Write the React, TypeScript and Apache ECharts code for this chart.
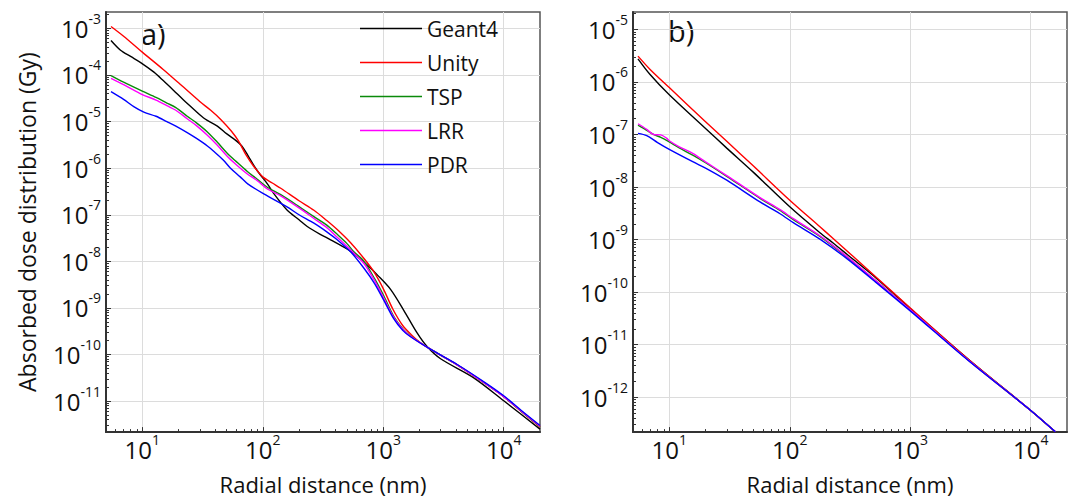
import React, { useEffect, useRef } from "react";
import * as echarts from "echarts";

// ---------- data (x: radial distance in nm, y: absorbed dose in Gy) ----------
const seriesNames = ["Geant4", "Unity", "TSP", "LRR", "PDR"];
const seriesColors = ["#000000", "#ff0000", "#0a8a0a", "#ff00ff", "#0000ff"];

// panel a)
const geant4A = [[5.5, 5.5e-4], [6.6, 3.4e-4], [8, 2.5e-4], [9.7, 1.85e-4], [12.5, 1.15e-4], [15, 7.5e-5], [18.3, 4.6e-5], [22, 2.9e-5], [27, 1.8e-5], [33, 1.15e-5], [42, 8.0e-6], [50, 5.5e-6], [60, 3.9e-6], [67, 3.0e-6], [75, 1.9e-6], [85, 1.1e-6], [95, 7.3e-7], [110, 4.5e-7], [124, 2.8e-7], [159, 1.26e-7], [200, 7.8e-8], [234, 5.6e-8], [300, 3.8e-8], [366, 2.9e-8], [500, 1.85e-8], [600, 1.3e-8], [736, 8.3e-9], [900, 5.0e-9], [1150, 2.5e-9], [1480, 8.9e-10], [1910, 2.9e-10], [2300, 1.5e-10], [2990, 8.1e-11], [5600, 3.2e-11], [10000, 1.02e-11], [20000, 2.5e-12]];
const unityA = [[5.5, 1.1e-3], [7, 6.8e-4], [10, 3.1e-4], [15, 1.3e-4], [20, 6.8e-5], [30, 2.7e-5], [37, 1.75e-5], [45, 1.1e-5], [55, 6.2e-6], [63, 3.8e-6], [72, 2.0e-6], [84, 1.1e-6], [100, 6.5e-7], [120, 4.8e-7], [141, 3.7e-7], [200, 2.0e-7], [266, 1.25e-7], [340, 7.5e-8], [415, 4.8e-8], [536, 2.5e-8], [692, 1.15e-8], [835, 6.0e-9], [1000, 2.6e-9], [1200, 9.5e-10], [1450, 4.2e-10], [1700, 2.7e-10], [2000, 1.85e-10], [2460, 1.3e-10], [4100, 6.0e-11], [7000, 2.4e-11], [10000, 1.25e-11], [14000, 6.0e-12], [20000, 2.8e-12]];
const tspA = [[5.5, 9.7e-5], [7, 7.0e-5], [10, 4.5e-5], [13, 3.3e-5], [16, 2.5e-5], [19, 2.0e-5], [23.6, 1.3e-5], [28, 9.5e-6], [34.7, 6.0e-6], [42, 3.6e-6], [50.7, 2.1e-6], [60, 1.4e-6], [74.5, 8.5e-7], [90, 5.8e-7], [109, 3.9e-7], [141, 2.7e-7], [200, 1.5e-7], [266, 9.1e-8], [340, 6.0e-8], [415, 3.8e-8], [500, 2.4e-8], [570, 1.6e-8], [692, 1.0e-8], [850, 4.2e-9], [1012, 1.8e-9], [1225, 6.5e-10], [1450, 3.6e-10], [1686, 2.5e-10], [2460, 1.3e-10], [4110, 6.0e-11], [7000, 2.4e-11], [10000, 1.25e-11], [14000, 6.0e-12], [20000, 2.85e-12]];
const lrrA = [[5.5, 8.5e-5], [7, 6.2e-5], [10, 3.8e-5], [13, 2.9e-5], [16, 2.2e-5], [19, 1.75e-5], [23.6, 1.15e-5], [28, 8.3e-6], [34.7, 5.1e-6], [42, 3.1e-6], [50.7, 1.8e-6], [60, 1.2e-6], [74.5, 7.5e-7], [90, 5.4e-7], [109, 3.6e-7], [141, 2.55e-7], [200, 1.4e-7], [266, 8.3e-8], [340, 5.3e-8], [415, 3.3e-8], [500, 2.1e-8], [570, 1.5e-8], [692, 9.0e-9], [850, 3.8e-9], [1012, 1.6e-9], [1225, 6.2e-10], [1450, 3.5e-10], [1686, 2.45e-10], [2460, 1.3e-10], [4110, 6.0e-11], [7000, 2.4e-11], [10000, 1.25e-11], [14000, 6.1e-12], [20000, 2.9e-12]];
const pdrA = [[5.5, 4.4e-5], [7, 3.0e-5], [8.5, 2.1e-5], [10.3, 1.6e-5], [13, 1.3e-5], [16, 1.0e-5], [19, 8.0e-6], [23.6, 5.8e-6], [28, 4.4e-6], [34.7, 3.0e-6], [40, 2.2e-6], [47, 1.5e-6], [54, 1.0e-6], [65, 6.5e-7], [75, 4.6e-7], [102, 2.8e-7], [159, 1.48e-7], [200, 1.0e-7], [266, 6.6e-8], [340, 4.3e-8], [415, 2.9e-8], [536, 1.6e-8], [692, 7.1e-9], [850, 3.3e-9], [1012, 1.45e-9], [1225, 5.8e-10], [1450, 3.3e-10], [1686, 2.4e-10], [2460, 1.3e-10], [4110, 6.1e-11], [7000, 2.5e-11], [10000, 1.3e-11], [14000, 6.3e-12], [20000, 3.0e-12]];

// panel b)
const geant4B = [[5.5, 2.75e-6], [6.9, 1.4e-6], [10, 5.7e-7], [20, 1.3e-7], [30, 5.5e-8], [50, 1.9e-8], [100, 4.2e-9], [178, 1.35e-9], [229, 8.6e-10], [300, 5.2e-10], [500, 2.0e-10], [1000, 4.9e-11], [3000, 5.4e-12], [10000, 5.6e-13], [16000, 2.2e-13]];
const unityB = [[5.5, 3.1e-6], [6.9, 1.75e-6], [10, 7.8e-7], [20, 1.75e-7], [30, 7.4e-8], [50, 2.5e-8], [100, 5.6e-9], [178, 1.75e-9], [229, 1.05e-9], [500, 2.1e-10], [1000, 5.0e-11], [3000, 5.4e-12], [10000, 5.6e-13], [16000, 2.2e-13]];
const tspB = [[5.5, 1.5e-7], [6.5, 1.2e-7], [7.4, 1.0e-7], [8.5, 8.8e-8], [10, 7.2e-8], [12, 5.6e-8], [15.8, 4.0e-8], [20, 2.9e-8], [30, 1.6e-8], [56.6, 6.1e-9], [83, 3.6e-9], [107, 2.4e-9], [178, 1.15e-9], [300, 4.6e-10], [500, 1.75e-10], [1000, 4.6e-11], [3000, 5.2e-12], [10000, 5.6e-13], [16000, 2.2e-13]];
const lrrB = [[5.5, 1.6e-7], [6.5, 1.25e-7], [7.4, 1.0e-7], [8.5, 9.8e-8], [9.5, 8.5e-8], [10, 7.6e-8], [12, 5.9e-8], [15.8, 4.3e-8], [20, 3.0e-8], [30, 1.65e-8], [56.6, 6.3e-9], [83, 3.7e-9], [107, 2.5e-9], [178, 1.18e-9], [300, 4.7e-10], [500, 1.75e-10], [1000, 4.6e-11], [3000, 5.2e-12], [10000, 5.6e-13], [16000, 2.2e-13]];
const pdrB = [[5.5, 1.05e-7], [6.5, 9.5e-8], [8, 7.0e-8], [10, 5.2e-8], [15.8, 3.0e-8], [20, 2.3e-8], [30, 1.35e-8], [56.6, 5.2e-9], [83, 3.1e-9], [107, 2.1e-9], [178, 1.02e-9], [300, 4.3e-10], [500, 1.65e-10], [1000, 4.4e-11], [3000, 5.1e-12], [10000, 5.6e-13], [16000, 2.2e-13]];

// axis ranges and tick exponents
const xRangeNm = [5, 20000];
const yRangeA = [2.16e-12, 2.25e-3];
const yRangeB = [2.17e-13, 2.14e-5];
const xExponents = [1, 2, 3, 4];
const yExponentsA = [-11, -10, -9, -8, -7, -6, -5, -4, -3];
const yExponentsB = [-12, -11, -10, -9, -8, -7, -6, -5];
const xTitle = "Radial distance (nm)";
const yTitle = "Absorbed dose distribution (Gy)";
const panelLabels = ["a)", "b)"];

const FONT = "'Open Sans', 'Liberation Sans', sans-serif";
const L = (v: number) => Math.log10(v);

function minorTicks(lo: number, hi: number): number[] {
  const out: number[] = [];
  for (let e = Math.floor(lo) - 1; e <= Math.ceil(hi); e++) {
    for (let k = 2; k <= 9; k++) {
      const v = e + Math.log10(k);
      if (v > lo && v < hi) out.push(v);
    }
  }
  return out;
}

const labelRich = {
  b: { fontSize: 24, fontFamily: FONT, color: "#111", lineHeight: 26 },
  s: { fontSize: 14, fontFamily: FONT, color: "#111", lineHeight: 14, padding: [0, 0, 20, 0] },
};
const fmt = (v: number) => `{b|10}{s|${Math.round(v)}}`;

function axesFor(kind: "x" | "y", gridIndex: number, range: number[], exps: number[], title: string | null) {
  const min = L(range[0]);
  const max = L(range[1]);
  const major: any = {
    type: "value",
    gridIndex,
    min,
    max,
    position: kind === "x" ? "bottom" : "left",
    axisLine: { show: true, onZero: false, lineStyle: { color: "#333", width: 2 } },
    axisTick: { show: true, inside: true, length: 5, customValues: exps, lineStyle: { color: "#333", width: 1 } },
    axisLabel: {
      show: true,
      customValues: exps,
      formatter: fmt,
      rich: labelRich,
      margin: kind === "x" ? 4 : 5,
    },
    splitLine: { show: true, lineStyle: { color: "#dcdcdc", width: 1 } },
  };
  if (title) {
    major.name = title;
    major.nameLocation = "middle";
    if (kind === "x") {
      major.nameTextStyle = { fontSize: 22, fontFamily: FONT, color: "#111", lineHeight: 26 };
      major.nameGap = 28;
    } else {
      major.nameTextStyle = { fontSize: 23, fontFamily: FONT, color: "#111", lineHeight: 26 };
      major.nameGap = 66;
      major.nameRotate = 90;
    }
  }
  const minor: any = {
    type: "value",
    gridIndex,
    min,
    max,
    position: kind === "x" ? "bottom" : "left",
    axisLine: { show: false, onZero: false },
    axisTick: { show: true, inside: true, length: 3, customValues: minorTicks(min, max), lineStyle: { color: "#333", width: 1 } },
    axisLabel: { show: false },
    splitLine: { show: false },
  };
  return [major, minor];
}

export default function App() {
  const ref = useRef<HTMLDivElement>(null);
  useEffect(() => {
    if (!ref.current) return;
    const chart = echarts.init(ref.current, undefined, { renderer: "svg" });
    const dataA = [geant4A, unityA, tspA, lrrA, pdrA];
    const dataB = [geant4B, unityB, tspB, lrrB, pdrB];
    const mkSeries = (d: number[][], i: number, axis: number) => ({
      type: "line",
      name: seriesNames[i],
      xAxisIndex: axis,
      yAxisIndex: axis,
      data: d.map(([x, y]) => [L(x), L(y)]),
      showSymbol: false,
      symbol: "none",
      smooth: 0.3,
      color: seriesColors[i],
      lineStyle: { color: seriesColors[i], width: 1.4 },
      clip: true,
    });
    const option: any = {
      animation: false,
      backgroundColor: "#fff",
      grid: [
        { left: 106, top: 12, width: 434, height: 434, show: true, borderColor: "#555", borderWidth: 1.5, backgroundColor: "transparent" },
        { left: 633, top: 12, width: 434, height: 434, show: true, borderColor: "#555", borderWidth: 1.5, backgroundColor: "transparent" },
      ],
      xAxis: [
        ...axesFor("x", 0, xRangeNm, xExponents, xTitle),
        ...axesFor("x", 1, xRangeNm, xExponents, xTitle),
      ],
      yAxis: [
        ...axesFor("y", 0, yRangeA, yExponentsA, yTitle),
        ...axesFor("y", 1, yRangeB, yExponentsB, null),
      ],
      legend: {
        data: seriesNames,
        orient: "vertical",
        left: 360,
        top: 18,
        padding: 0,
        icon: "rect",
        itemWidth: 62,
        itemHeight: 1.5,
        itemGap: 13,
        textStyle: { fontSize: 21, lineHeight: 20, fontFamily: FONT, color: "#111" },
      },
      graphic: [
        { type: "text", left: 141, top: 19, style: { text: panelLabels[0], fontSize: 29, fontFamily: FONT, fill: "#111" } },
        { type: "text", left: 668, top: 16, style: { text: panelLabels[1], fontSize: 29, fontFamily: FONT, fill: "#111" } },
      ],
      series: [
        ...dataA.map((d, i) => mkSeries(d, i, 0)),
        ...dataB.map((d, i) => mkSeries(d, i, 2)),
      ],
    };
    chart.setOption(option);
    return () => chart.dispose();
  }, []);
  return <div ref={ref} style={{ position: "fixed", left: 0, top: 0, width: 1072, height: 502 }} />;
}
